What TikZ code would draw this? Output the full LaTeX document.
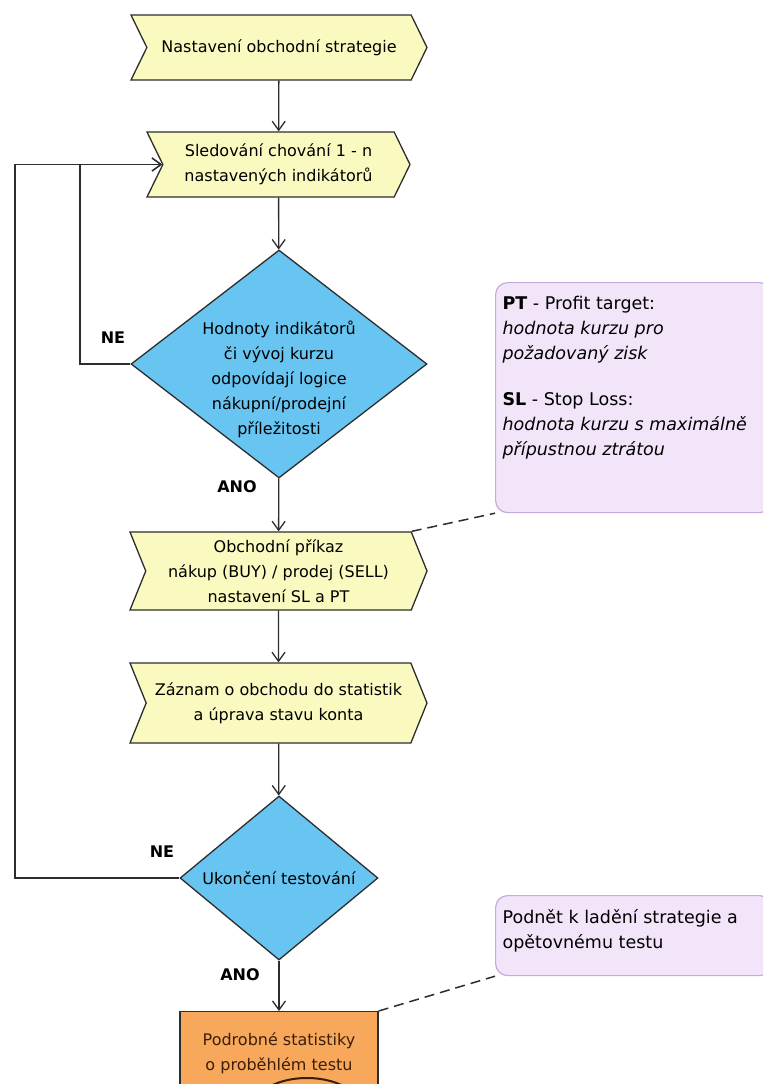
\documentclass[tikz,border=0pt]{standalone}
\usepackage{fontspec}
\setmainfont{DejaVu Sans}
\usetikzlibrary{shapes.symbols,shapes.geometric,arrows.meta}

\definecolor{procfill}{RGB}{250,250,192}
\definecolor{decfill}{RGB}{104,196,240}
\definecolor{statfill}{RGB}{248,168,90}
\definecolor{notefill}{RGB}{242,229,250}
\definecolor{notedraw}{RGB}{196,170,222}
\definecolor{linecol}{RGB}{45,45,45}
\definecolor{stattext}{RGB}{60,30,10}

\tikzset{
  process/.style={signal, signal to=east, signal from=west, draw=linecol, fill=procfill,
    line width=1.3pt, inner sep=0pt, align=center, font=\fontsize{16}{25}\selectfont},
  decision/.style={diamond, draw=linecol, fill=decfill, line width=1.3pt, inner sep=-40pt,
    align=center, font=\fontsize{16}{25}\selectfont},
  statbox/.style={rectangle, draw=linecol, fill=statfill, line width=1.3pt, align=center,
    text=stattext, font=\fontsize{16}{25}\selectfont},
  note/.style={rectangle, rounded corners=12pt, draw=notedraw, fill=notefill, line width=1.2pt,
    anchor=north west, inner xsep=7pt, inner ysep=14pt, font=\fontsize{17.5}{25}\selectfont},
  yesno/.style={font=\fontsize{16}{20}\selectfont\bfseries},
  flow/.style={draw=linecol, line width=1.3pt, -{Straight Barb[length=9pt,width=13pt]}},
  link/.style={draw=linecol, line width=1.5pt, dash pattern=on 10pt off 6pt}
}

\begin{document}
\begin{tikzpicture}[x=1pt,y=-1pt]
\useasboundingbox (0,0) rectangle (763,1084);
\clip (0,0) rectangle (763,1084);

% kroky
\node[process, signal pointer angle=128, minimum width=296, minimum height=65] (start) at (279,47.5) {Nastavení obchodní strategie};
\node[process, signal pointer angle=128, minimum width=263, minimum height=65] (watch) at (278.5,164.5) {Sledování chování 1 - n\\nastavených indikátorů};
\node[decision, minimum width=296, minimum height=228] (logic) at (279,364) {\raisebox{-20pt}[0pt][0pt]{\begin{tabular}{@{}c@{}}Hodnoty indikátorů\\či vývoj kurzu\\odpovídají logice\\nákupní/prodejní\\příležitosti\end{tabular}}};
\node[process, signal pointer angle=136, minimum width=297, minimum height=78] (order) at (278.5,571) {Obchodní příkaz\\nákup (BUY) / prodej (SELL)\\nastavení SL a PT};
\node[process, signal pointer angle=136, minimum width=297, minimum height=80] (record) at (278.5,703) {Záznam o obchodu do statistik\\a úprava stavu konta};
\node[decision, minimum width=198, minimum height=164] (finish) at (279,878) {Ukončení testování};
\node[statbox, minimum width=198, minimum height=83, anchor=north] (stats) at (279,1011) {Podrobné statistiky\\o proběhlém testu};
\draw[line width=2pt, stattext] (264,1090) .. controls (286,1074) and (328,1074) .. (350,1090);

% poznamky
\node[note] (ptsl) at (495,282) {\parbox[c][202pt][t]{262pt}{\raggedright
  \textbf{PT} - Profit target:\\\textit{hodnota kurzu pro}\\\textit{požadovaný zisk}\\[21pt]
  \textbf{SL} - Stop Loss:\\\textit{hodnota kurzu s maximálně}\\\textit{přípustnou ztrátou}}};
\node[note] (tune) at (495,895) {\parbox[c][52pt][t]{262pt}{\raggedright
  Podnět k ladění strategie a\\opětovnému testu}};

% popisky vetvi
\node[yesno] (ne1) at (113,338) {NE};
\node[yesno] (ano1) at (237,487) {ANO};
\node[yesno] (ne2) at (162,852) {NE};
\node[yesno] (ano2) at (240,975) {ANO};

% spoje
\coordinate (inner) at (80,364);
\coordinate (outer) at (15,878);
\draw[flow] (start) -- (watch);
\draw[flow] (watch) -- (logic);
\draw[flow] (logic) -- (order);
\draw[flow] (order) -- (record);
\draw[flow] (record) -- (finish);
\draw[flow] (finish) -- (stats);
\draw[flow] (logic.west) -- (inner) |- (watch.west);
\draw[flow] (finish.west) -- (outer) |- (watch.west);
\draw[link] (order.north east) -- (ptsl.south west);
\draw[link] (stats.north east) -- (tune.south west);
\end{tikzpicture}
\end{document}
